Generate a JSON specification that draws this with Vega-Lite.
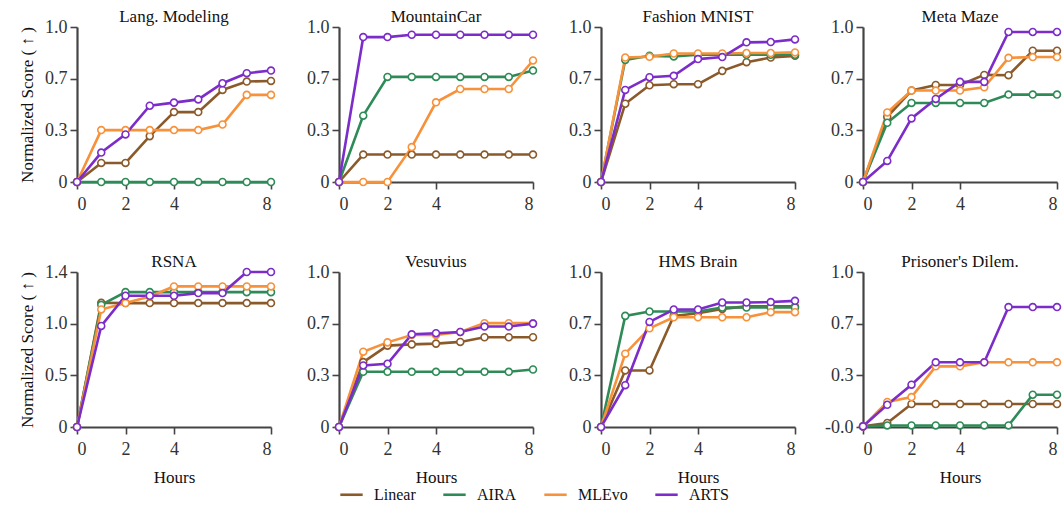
{
  "$schema": "https://vega.github.io/schema/vega-lite/v6.json",
  "padding": {"left": 18, "top": 8, "right": 3, "bottom": 0},
  "background": "white",
  "datasets": {
    "scores": [
      {"panel": "Lang. Modeling", "hour": 0, "Linear": 0, "AIRA": 0, "MLEvo": 0, "ARTS": 0},
      {"panel": "Lang. Modeling", "hour": 1, "Linear": 0.123, "AIRA": 0, "MLEvo": 0.335, "ARTS": 0.19},
      {"panel": "Lang. Modeling", "hour": 2, "Linear": 0.123, "AIRA": 0, "MLEvo": 0.335, "ARTS": 0.307},
      {"panel": "Lang. Modeling", "hour": 3, "Linear": 0.296, "AIRA": 0, "MLEvo": 0.335, "ARTS": 0.492},
      {"panel": "Lang. Modeling", "hour": 4, "Linear": 0.451, "AIRA": 0, "MLEvo": 0.335, "ARTS": 0.512},
      {"panel": "Lang. Modeling", "hour": 5, "Linear": 0.451, "AIRA": 0, "MLEvo": 0.335, "ARTS": 0.533},
      {"panel": "Lang. Modeling", "hour": 6, "Linear": 0.594, "AIRA": 0, "MLEvo": 0.371, "ARTS": 0.637},
      {"panel": "Lang. Modeling", "hour": 7, "Linear": 0.648, "AIRA": 0, "MLEvo": 0.562, "ARTS": 0.702},
      {"panel": "Lang. Modeling", "hour": 8, "Linear": 0.652, "AIRA": 0, "MLEvo": 0.562, "ARTS": 0.719},

      {"panel": "MountainCar", "hour": 0, "Linear": 0, "AIRA": 0, "MLEvo": 0, "ARTS": 0},
      {"panel": "MountainCar", "hour": 1, "Linear": 0.177, "AIRA": 0.428, "MLEvo": 0, "ARTS": 0.935},
      {"panel": "MountainCar", "hour": 2, "Linear": 0.177, "AIRA": 0.678, "MLEvo": 0, "ARTS": 0.935},
      {"panel": "MountainCar", "hour": 3, "Linear": 0.177, "AIRA": 0.678, "MLEvo": 0.225, "ARTS": 0.95},
      {"panel": "MountainCar", "hour": 4, "Linear": 0.177, "AIRA": 0.678, "MLEvo": 0.514, "ARTS": 0.95},
      {"panel": "MountainCar", "hour": 5, "Linear": 0.177, "AIRA": 0.678, "MLEvo": 0.6, "ARTS": 0.95},
      {"panel": "MountainCar", "hour": 6, "Linear": 0.177, "AIRA": 0.678, "MLEvo": 0.6, "ARTS": 0.95},
      {"panel": "MountainCar", "hour": 7, "Linear": 0.177, "AIRA": 0.678, "MLEvo": 0.6, "ARTS": 0.95},
      {"panel": "MountainCar", "hour": 8, "Linear": 0.177, "AIRA": 0.719, "MLEvo": 0.784, "ARTS": 0.95},

      {"panel": "Fashion MNIST", "hour": 0, "Linear": 0, "AIRA": 0, "MLEvo": 0, "ARTS": 0},
      {"panel": "Fashion MNIST", "hour": 1, "Linear": 0.505, "AIRA": 0.788, "MLEvo": 0.803, "ARTS": 0.594},
      {"panel": "Fashion MNIST", "hour": 2, "Linear": 0.624, "AIRA": 0.814, "MLEvo": 0.808, "ARTS": 0.676},
      {"panel": "Fashion MNIST", "hour": 3, "Linear": 0.631, "AIRA": 0.81, "MLEvo": 0.829, "ARTS": 0.685},
      {"panel": "Fashion MNIST", "hour": 4, "Linear": 0.631, "AIRA": 0.821, "MLEvo": 0.829, "ARTS": 0.793},
      {"panel": "Fashion MNIST", "hour": 5, "Linear": 0.717, "AIRA": 0.821, "MLEvo": 0.829, "ARTS": 0.806},
      {"panel": "Fashion MNIST", "hour": 6, "Linear": 0.773, "AIRA": 0.821, "MLEvo": 0.832, "ARTS": 0.901},
      {"panel": "Fashion MNIST", "hour": 7, "Linear": 0.803, "AIRA": 0.821, "MLEvo": 0.832, "ARTS": 0.903},
      {"panel": "Fashion MNIST", "hour": 8, "Linear": 0.814, "AIRA": 0.821, "MLEvo": 0.836, "ARTS": 0.92},

      {"panel": "Meta Maze", "hour": 0, "Linear": 0, "AIRA": 0, "MLEvo": 0, "ARTS": 0},
      {"panel": "Meta Maze", "hour": 1, "Linear": 0.421, "AIRA": 0.382, "MLEvo": 0.449, "ARTS": 0.136},
      {"panel": "Meta Maze", "hour": 2, "Linear": 0.59, "AIRA": 0.51, "MLEvo": 0.59, "ARTS": 0.41},
      {"panel": "Meta Maze", "hour": 3, "Linear": 0.626, "AIRA": 0.51, "MLEvo": 0.59, "ARTS": 0.536},
      {"panel": "Meta Maze", "hour": 4, "Linear": 0.626, "AIRA": 0.51, "MLEvo": 0.59, "ARTS": 0.646},
      {"panel": "Meta Maze", "hour": 5, "Linear": 0.691, "AIRA": 0.51, "MLEvo": 0.611, "ARTS": 0.646},
      {"panel": "Meta Maze", "hour": 6, "Linear": 0.689, "AIRA": 0.564, "MLEvo": 0.801, "ARTS": 0.968},
      {"panel": "Meta Maze", "hour": 7, "Linear": 0.847, "AIRA": 0.564, "MLEvo": 0.806, "ARTS": 0.968},
      {"panel": "Meta Maze", "hour": 8, "Linear": 0.847, "AIRA": 0.564, "MLEvo": 0.806, "ARTS": 0.968},

      {"panel": "RSNA", "hour": 0, "Linear": 0, "AIRA": 0, "MLEvo": 0, "ARTS": 0},
      {"panel": "RSNA", "hour": 1, "Linear": 1.154, "AIRA": 1.135, "MLEvo": 1.092, "ARTS": 0.939},
      {"panel": "RSNA", "hour": 2, "Linear": 1.151, "AIRA": 1.253, "MLEvo": 1.151, "ARTS": 1.219},
      {"panel": "RSNA", "hour": 3, "Linear": 1.151, "AIRA": 1.253, "MLEvo": 1.213, "ARTS": 1.219},
      {"panel": "RSNA", "hour": 4, "Linear": 1.151, "AIRA": 1.253, "MLEvo": 1.306, "ARTS": 1.219},
      {"panel": "RSNA", "hour": 5, "Linear": 1.151, "AIRA": 1.253, "MLEvo": 1.306, "ARTS": 1.244},
      {"panel": "RSNA", "hour": 6, "Linear": 1.151, "AIRA": 1.253, "MLEvo": 1.306, "ARTS": 1.244},
      {"panel": "RSNA", "hour": 7, "Linear": 1.151, "AIRA": 1.253, "MLEvo": 1.306, "ARTS": 1.44},
      {"panel": "RSNA", "hour": 8, "Linear": 1.151, "AIRA": 1.253, "MLEvo": 1.306, "ARTS": 1.44},

      {"panel": "Vesuvius", "hour": 0, "Linear": 0, "AIRA": 0, "MLEvo": 0, "ARTS": 0},
      {"panel": "Vesuvius", "hour": 1, "Linear": 0.419, "AIRA": 0.356, "MLEvo": 0.486, "ARTS": 0.397},
      {"panel": "Vesuvius", "hour": 2, "Linear": 0.525, "AIRA": 0.356, "MLEvo": 0.546, "ARTS": 0.408},
      {"panel": "Vesuvius", "hour": 3, "Linear": 0.533, "AIRA": 0.356, "MLEvo": 0.594, "ARTS": 0.598},
      {"panel": "Vesuvius", "hour": 4, "Linear": 0.538, "AIRA": 0.356, "MLEvo": 0.594, "ARTS": 0.605},
      {"panel": "Vesuvius", "hour": 5, "Linear": 0.549, "AIRA": 0.356, "MLEvo": 0.613, "ARTS": 0.613},
      {"panel": "Vesuvius", "hour": 6, "Linear": 0.579, "AIRA": 0.356, "MLEvo": 0.67, "ARTS": 0.648},
      {"panel": "Vesuvius", "hour": 7, "Linear": 0.579, "AIRA": 0.356, "MLEvo": 0.67, "ARTS": 0.648},
      {"panel": "Vesuvius", "hour": 8, "Linear": 0.579, "AIRA": 0.371, "MLEvo": 0.67, "ARTS": 0.667},

      {"panel": "HMS Brain", "hour": 0, "Linear": 0, "AIRA": 0, "MLEvo": 0, "ARTS": 0},
      {"panel": "HMS Brain", "hour": 1, "Linear": 0.365, "AIRA": 0.717, "MLEvo": 0.473, "ARTS": 0.27},
      {"panel": "HMS Brain", "hour": 2, "Linear": 0.365, "AIRA": 0.745, "MLEvo": 0.637, "ARTS": 0.678},
      {"panel": "HMS Brain", "hour": 3, "Linear": 0.717, "AIRA": 0.745, "MLEvo": 0.708, "ARTS": 0.758},
      {"panel": "HMS Brain", "hour": 4, "Linear": 0.734, "AIRA": 0.745, "MLEvo": 0.708, "ARTS": 0.758},
      {"panel": "HMS Brain", "hour": 5, "Linear": 0.762, "AIRA": 0.771, "MLEvo": 0.708, "ARTS": 0.803},
      {"panel": "HMS Brain", "hour": 6, "Linear": 0.778, "AIRA": 0.771, "MLEvo": 0.708, "ARTS": 0.803},
      {"panel": "HMS Brain", "hour": 7, "Linear": 0.778, "AIRA": 0.771, "MLEvo": 0.741, "ARTS": 0.806},
      {"panel": "HMS Brain", "hour": 8, "Linear": 0.778, "AIRA": 0.771, "MLEvo": 0.741, "ARTS": 0.814},

      {"panel": "Prisoner's Dilem.", "hour": 0, "Linear": 0, "AIRA": 0, "MLEvo": 0, "ARTS": 0},
      {"panel": "Prisoner's Dilem.", "hour": 1, "Linear": 0.022, "AIRA": 0.006, "MLEvo": 0.158, "ARTS": 0.14},
      {"panel": "Prisoner's Dilem.", "hour": 2, "Linear": 0.145, "AIRA": 0.006, "MLEvo": 0.19, "ARTS": 0.27},
      {"panel": "Prisoner's Dilem.", "hour": 3, "Linear": 0.145, "AIRA": 0.006, "MLEvo": 0.389, "ARTS": 0.415},
      {"panel": "Prisoner's Dilem.", "hour": 4, "Linear": 0.145, "AIRA": 0.006, "MLEvo": 0.389, "ARTS": 0.415},
      {"panel": "Prisoner's Dilem.", "hour": 5, "Linear": 0.145, "AIRA": 0.006, "MLEvo": 0.415, "ARTS": 0.415},
      {"panel": "Prisoner's Dilem.", "hour": 6, "Linear": 0.145, "AIRA": 0.006, "MLEvo": 0.415, "ARTS": 0.773},
      {"panel": "Prisoner's Dilem.", "hour": 7, "Linear": 0.145, "AIRA": 0.205, "MLEvo": 0.415, "ARTS": 0.773},
      {"panel": "Prisoner's Dilem.", "hour": 8, "Linear": 0.145, "AIRA": 0.205, "MLEvo": 0.415, "ARTS": 0.773}
    ]
  },
  "data": {"name": "scores"},
  "transform": [{"fold": ["Linear", "AIRA", "MLEvo", "ARTS"], "as": ["method", "score"]}],
  "columns": 4,
  "spacing": {"row": 90, "column": 68},
  "bounds": "flush",
  "concat": [
    {
      "title": "Lang. Modeling", "width": 194, "height": 155,
      "transform": [{"filter": "datum.panel === 'Lang. Modeling'"}],
      "encoding": {
        "x": {"field": "hour", "type": "quantitative", "scale": {"domain": [0, 8]}, "axis": {"values": [0, 2, 4, 8], "title": null}},
        "y": {"field": "score", "type": "quantitative", "scale": {"domain": [0, 1]}, "axis": {"values": [0, 0.33333, 0.66667, 1], "title": "Normalized Score ( ↑ )"}},
        "color": {"field": "method", "type": "nominal", "scale": {"domain": ["Linear", "AIRA", "MLEvo", "ARTS"], "range": ["#8B5A2B", "#2E8B57", "#F7913A", "#7B2CC9"]},
          "legend": {"encode": {"labels": {"update": {"font": {"signal": "datum.label === 'ARTS' ? 'DejaVu Sans' : 'Liberation Serif'"}}}}}}
      },
      "layer": [{"mark": {"type": "line"}}, {"mark": {"type": "point"}}]
    },
    {
      "title": "MountainCar", "width": 194, "height": 155,
      "transform": [{"filter": "datum.panel === 'MountainCar'"}],
      "encoding": {
        "x": {"field": "hour", "type": "quantitative", "scale": {"domain": [0, 8]}, "axis": {"values": [0, 2, 4, 8], "title": null}},
        "y": {"field": "score", "type": "quantitative", "scale": {"domain": [0, 1]}, "axis": {"values": [0, 0.33333, 0.66667, 1], "title": null}},
        "color": {"field": "method", "type": "nominal", "scale": {"domain": ["Linear", "AIRA", "MLEvo", "ARTS"], "range": ["#8B5A2B", "#2E8B57", "#F7913A", "#7B2CC9"]}}
      },
      "layer": [{"mark": {"type": "line"}}, {"mark": {"type": "point"}}]
    },
    {
      "title": "Fashion MNIST", "width": 194, "height": 155,
      "transform": [{"filter": "datum.panel === 'Fashion MNIST'"}],
      "encoding": {
        "x": {"field": "hour", "type": "quantitative", "scale": {"domain": [0, 8]}, "axis": {"values": [0, 2, 4, 8], "title": null}},
        "y": {"field": "score", "type": "quantitative", "scale": {"domain": [0, 1]}, "axis": {"values": [0, 0.33333, 0.66667, 1], "title": null}},
        "color": {"field": "method", "type": "nominal", "scale": {"domain": ["Linear", "AIRA", "MLEvo", "ARTS"], "range": ["#8B5A2B", "#2E8B57", "#F7913A", "#7B2CC9"]}}
      },
      "layer": [{"mark": {"type": "line"}}, {"mark": {"type": "point"}}]
    },
    {
      "title": "Meta Maze", "width": 194, "height": 155,
      "transform": [{"filter": "datum.panel === 'Meta Maze'"}],
      "encoding": {
        "x": {"field": "hour", "type": "quantitative", "scale": {"domain": [0, 8]}, "axis": {"values": [0, 2, 4, 8], "title": null}},
        "y": {"field": "score", "type": "quantitative", "scale": {"domain": [0, 1]}, "axis": {"values": [0, 0.33333, 0.66667, 1], "title": null}},
        "color": {"field": "method", "type": "nominal", "scale": {"domain": ["Linear", "AIRA", "MLEvo", "ARTS"], "range": ["#8B5A2B", "#2E8B57", "#F7913A", "#7B2CC9"]}}
      },
      "layer": [{"mark": {"type": "line"}}, {"mark": {"type": "point"}}]
    },
    {
      "title": "RSNA", "width": 194, "height": 155,
      "transform": [{"filter": "datum.panel === 'RSNA'"}],
      "encoding": {
        "x": {"field": "hour", "type": "quantitative", "scale": {"domain": [0, 8]}, "axis": {"values": [0, 2, 4, 8], "title": "Hours"}},
        "y": {"field": "score", "type": "quantitative", "scale": {"domain": [0, 1.44]}, "axis": {"values": [0, 0.48, 0.96, 1.44], "title": "Normalized Score ( ↑ )"}},
        "color": {"field": "method", "type": "nominal", "scale": {"domain": ["Linear", "AIRA", "MLEvo", "ARTS"], "range": ["#8B5A2B", "#2E8B57", "#F7913A", "#7B2CC9"]}}
      },
      "layer": [{"mark": {"type": "line"}}, {"mark": {"type": "point"}}]
    },
    {
      "title": "Vesuvius", "width": 194, "height": 155,
      "transform": [{"filter": "datum.panel === 'Vesuvius'"}],
      "encoding": {
        "x": {"field": "hour", "type": "quantitative", "scale": {"domain": [0, 8]}, "axis": {"values": [0, 2, 4, 8], "title": "Hours"}},
        "y": {"field": "score", "type": "quantitative", "scale": {"domain": [0, 1]}, "axis": {"values": [0, 0.33333, 0.66667, 1], "title": null}},
        "color": {"field": "method", "type": "nominal", "scale": {"domain": ["Linear", "AIRA", "MLEvo", "ARTS"], "range": ["#8B5A2B", "#2E8B57", "#F7913A", "#7B2CC9"]}}
      },
      "layer": [{"mark": {"type": "line"}}, {"mark": {"type": "point"}}]
    },
    {
      "title": "HMS Brain", "width": 194, "height": 155,
      "transform": [{"filter": "datum.panel === 'HMS Brain'"}],
      "encoding": {
        "x": {"field": "hour", "type": "quantitative", "scale": {"domain": [0, 8]}, "axis": {"values": [0, 2, 4, 8], "title": "Hours"}},
        "y": {"field": "score", "type": "quantitative", "scale": {"domain": [0, 1]}, "axis": {"values": [0, 0.33333, 0.66667, 1], "title": null}},
        "color": {"field": "method", "type": "nominal", "scale": {"domain": ["Linear", "AIRA", "MLEvo", "ARTS"], "range": ["#8B5A2B", "#2E8B57", "#F7913A", "#7B2CC9"]}}
      },
      "layer": [{"mark": {"type": "line"}}, {"mark": {"type": "point"}}]
    },
    {
      "title": "Prisoner's Dilem.", "width": 194, "height": 155,
      "transform": [{"filter": "datum.panel === \"Prisoner's Dilem.\""}],
      "encoding": {
        "x": {"field": "hour", "type": "quantitative", "scale": {"domain": [0, 8]}, "axis": {"values": [0, 2, 4, 8], "title": "Hours"}},
        "y": {"field": "score", "type": "quantitative", "scale": {"domain": [-0.004, 1]}, "axis": {"values": [-0.004, 0.33067, 0.66533, 1], "title": null}},
        "color": {"field": "method", "type": "nominal", "scale": {"domain": ["Linear", "AIRA", "MLEvo", "ARTS"], "range": ["#8B5A2B", "#2E8B57", "#F7913A", "#7B2CC9"]}}
      },
      "layer": [{"mark": {"type": "line"}}, {"mark": {"type": "point"}}]
    }
  ],
  "resolve": {"scale": {"x": "independent", "y": "independent"}},
  "config": {
    "font": "Liberation Serif, DejaVu Serif, serif",
    "view": {"stroke": null},
    "line": {"strokeWidth": 2.6},
    "point": {"filled": false, "fill": "white", "size": 48, "strokeWidth": 1.6, "opacity": 1},
    "scale": {"zero": false},
    "title": {"font": "Liberation Serif, DejaVu Serif, serif", "fontSize": 17, "fontWeight": "normal", "color": "#111", "offset": -8, "frame": "group"},
    "axis": {
      "grid": false,
      "domainColor": "#444", "domainWidth": 2.2,
      "tickColor": "#444", "tickWidth": 1.6, "tickSize": 7,
      "labelFont": "Liberation Serif, DejaVu Serif, serif", "labelFontSize": 18, "labelColor": "#333",
      "titleFont": "Liberation Serif, DejaVu Serif, serif", "titleFontSize": 17, "titleFontWeight": "normal", "titleColor": "#111"
    },
    "axisX": {"labelPadding": 6, "titlePadding": 11, "labelExpr": "datum.label"},
    "axisY": {"labelPadding": 3, "titlePadding": 8, "labelFlush": false, "labelExpr": "datum.value < 0 ? '-' + format(-datum.value, '.1f') : datum.value == 0 ? '0' : format(datum.value, '.1f')"},
    "legend": {
      "orient": "none", "direction": "horizontal", "title": null,
      "legendX": 262, "legendY": 455,
      "symbolType": "stroke", "symbolSize": 500, "symbolStrokeWidth": 3,
      "labelFont": "Liberation Serif, DejaVu Serif, serif", "labelFontSize": 16, "labelColor": "#111",
      "columnPadding": 22, "labelOffset": 10
    }
  }
}
